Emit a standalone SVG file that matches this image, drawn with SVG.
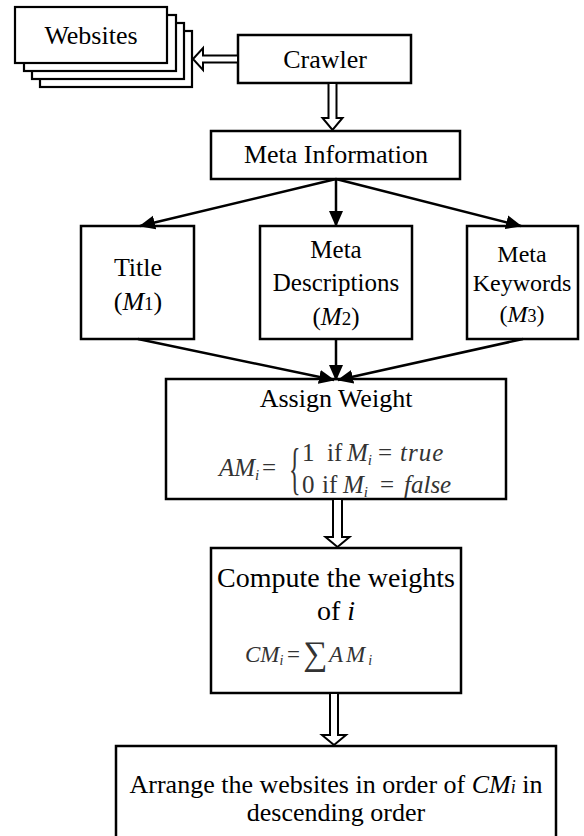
<svg xmlns="http://www.w3.org/2000/svg" width="584" height="836" viewBox="0 0 584 836">
<style>
.box{fill:#fff;stroke:#000;stroke-width:2.5}
.stk{fill:#fff;stroke:#000;stroke-width:2.2}
text{font-family:'Liberation Serif','DejaVu Serif',serif}
.t{font-size:26px;fill:#000;text-anchor:middle}
.ln{stroke:#000;stroke-width:2.5;fill:none}
.hol{fill:#fff;stroke:#000;stroke-width:2}
.m{font-size:25px;fill:#333}
.i{font-style:italic}
</style>
<defs>
<marker id="ah" markerUnits="userSpaceOnUse" markerWidth="16" markerHeight="16" viewBox="0 0 16 16" refX="15" refY="8" orient="auto">
<path d="M0,1 L16,8 L0,15 z" fill="#000"/>
</marker>
</defs>

<g id="websites">
<rect class="stk" x="40" y="31" width="152" height="56"/>
<rect class="stk" x="32" y="23" width="152" height="56"/>
<rect class="stk" x="24" y="15" width="152" height="56"/>
<rect class="stk" x="15" y="7" width="152" height="56"/>
<text class="t" x="91" y="44">Websites</text>
</g>

<g id="crawler">
<rect class="box" x="238" y="35" width="173" height="48"/>
<text class="t" x="325" y="68">Crawler</text>
</g>

<g id="meta-information">
<rect class="box" x="211" y="131" width="249" height="48"/>
<text class="t" x="336" y="163">Meta Information</text>
</g>

<g id="title">
<rect class="box" x="81" y="226" width="113" height="113"/>
<text class="t" x="138" y="276">Title</text>
<text class="t" x="138" y="310">(<tspan class="i">M</tspan><tspan font-size="19">1</tspan>)</text>
</g>

<g id="meta-descriptions">
<rect class="box" x="260" y="226" width="152" height="113"/>
<text class="t" x="336" y="258" style="font-size:25px">Meta</text>
<text class="t" x="336" y="291" style="font-size:25px">Descriptions</text>
<text class="t" x="336" y="325" style="font-size:25px">(<tspan class="i">M</tspan><tspan font-size="19">2</tspan>)</text>
</g>

<g id="meta-keywords">
<rect class="box" x="467" y="226" width="111" height="113"/>
<text class="t" x="522" y="262" style="font-size:24px">Meta</text>
<text class="t" x="522" y="291" style="font-size:24px">Keywords</text>
<text class="t" x="522" y="322" style="font-size:24px">(<tspan class="i">M</tspan><tspan font-size="18">3</tspan>)</text>
</g>

<g id="assign-weight">
<rect class="box" x="166" y="379" width="340" height="120"/>
<text class="t" x="336" y="407">Assign Weight</text>
<text class="m i" x="219" y="476">AM<tspan font-size="15" dy="4">i</tspan></text>
<text class="m" x="262" y="476">=</text>
<text class="m" transform="translate(289,488) scale(1,2.4)" style="font-size:24px">{</text>
<text class="m" x="302" y="461">1</text>
<text class="m" x="327" y="461">if</text>
<text class="m i" x="347" y="461">M<tspan font-size="15" dy="4">i</tspan></text>
<text class="m" x="378" y="461">=</text>
<text class="m i" x="400" y="461" letter-spacing="1">true</text>
<text class="m" x="302" y="493">0</text>
<text class="m" x="322" y="493">if</text>
<text class="m i" x="343" y="493">M<tspan font-size="15" dy="4">i</tspan></text>
<text class="m" x="380" y="493">=</text>
<text class="m i" x="404" y="493">false</text>
</g>

<g id="compute-weights">
<rect class="box" x="211" y="548" width="250" height="145"/>
<text class="t" x="336" y="587" style="font-size:28px">Compute the weights</text>
<text class="t" x="336" y="620" style="font-size:28px">of <tspan class="i">i</tspan></text>
<text class="m i" x="245" y="662" style="font-size:23px">CM<tspan font-size="14" dy="3">i</tspan></text>
<text class="m" x="287" y="662" style="font-size:23px">=</text>
<text class="m" x="303" y="665" style="font-size:34px">∑</text>
<text class="m i" x="329" y="662" letter-spacing="3" style="font-size:23px">AM<tspan font-size="14" dy="3">i</tspan></text>
</g>

<g id="arrange">
<rect class="box" x="116" y="746" width="440" height="100"/>
<text class="t" x="336" y="793">Arrange the websites in order of <tspan class="i">CM</tspan><tspan class="i" font-size="18">i</tspan> in</text>
<text class="t" x="336" y="821">descending order</text>
</g>

<g id="connectors">
<polygon class="hol" points="238,55.5 203,55.5 203,48 193,59 203,70 203,62.5 238,62.5"/>
<polygon class="hol" points="328.5,83 328.5,118 322.5,118 332.5,130 342.5,118 336.5,118 336.5,83"/>
<polygon class="hol" points="333,499 333,537 325.5,537 337.5,547 349.5,537 342,537 342,499"/>
<polygon class="hol" points="330,693 330,735 322,735 334,745 346,735 338,735 338,693"/>
<line class="ln" x1="336" y1="179" x2="140" y2="226" marker-end="url(#ah)"/>
<line class="ln" x1="336" y1="179" x2="336" y2="226" marker-end="url(#ah)"/>
<line class="ln" x1="336" y1="179" x2="521" y2="226" marker-end="url(#ah)"/>
<line class="ln" x1="138" y1="339" x2="334" y2="380" marker-end="url(#ah)"/>
<line class="ln" x1="336" y1="339" x2="336" y2="380" marker-end="url(#ah)"/>
<line class="ln" x1="523" y1="339" x2="338" y2="380" marker-end="url(#ah)"/>
</g>
</svg>
